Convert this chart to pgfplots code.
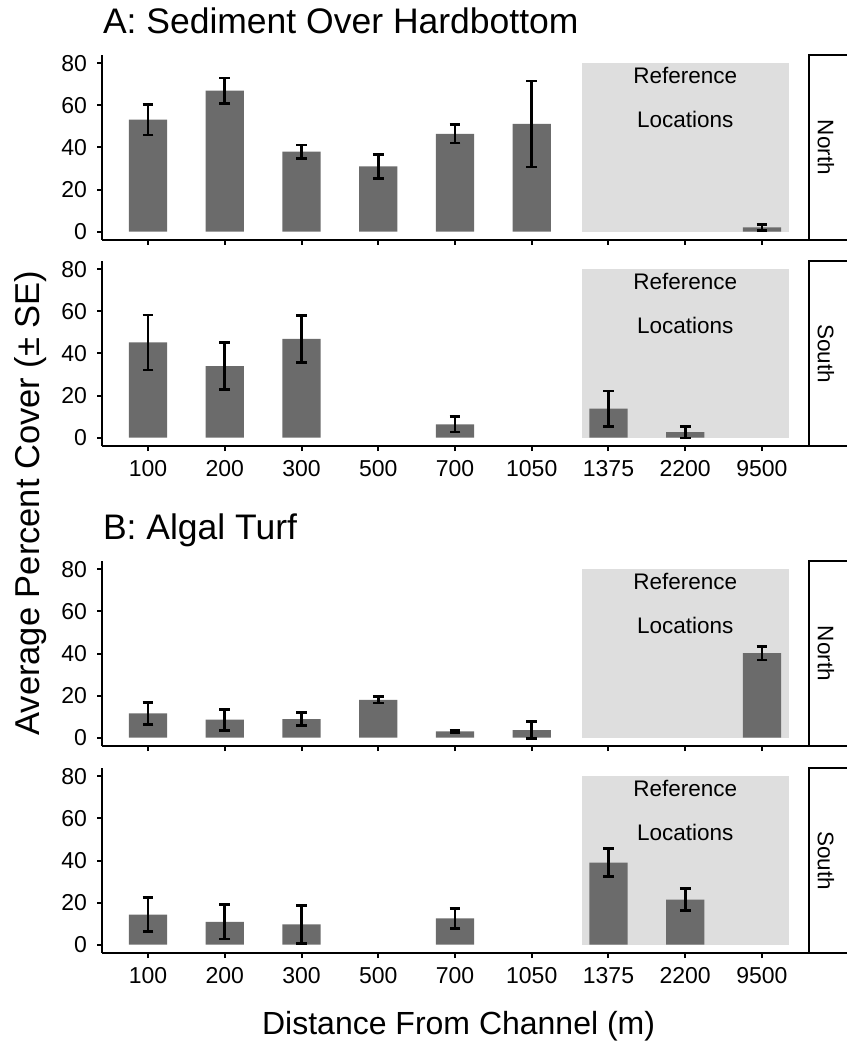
\documentclass[border=0pt]{standalone}
\usepackage{pgfplots}
\pgfplotsset{compat=1.18}
\usepackage{fontspec}
\setmainfont{Liberation Sans}

\definecolor{bargray}{HTML}{6B6B6B}
\definecolor{refgray}{HTML}{DEDEDE}

\pgfplotsset{
  panel/.style={
    width=353pt, height=92.5pt, scale only axis,
    anchor=south west,
    xmin=-0.6, xmax=8.6, ymin=-4, ymax=84,
    axis x line*=bottom, axis y line*=left,
    axis line style={line width=1pt, black},
    xtick={0,...,8}, ytick={0,20,40,60,80},
    tick align=outside, major tick length=2.5pt,
    every tick/.style={line width=1pt, black},
    tick label style={font=\fontsize{11.5}{13}\selectfont, black},
    yticklabel style={xshift=-1.5pt},
    xticklabel style={yshift=-1pt},
    /pgf/number format/assume math mode=true,
    ybar, bar width=0.5,
  },
  nolabels/.style={xticklabels={}},
  labels/.style={xticklabels={100,200,300,500,700,1050,1375,2200,9500}},
  bars/.style={fill=bargray, draw=none,
    error bars/.cd, y dir=both, y explicit,
    error bar style={draw=black, line width=1.3pt},
    error mark options={rotate=90, draw=black, line width=1.3pt, mark size=2.7pt}},
}

% grey box for the reference sites
\newcommand{\refbox}{%
  \fill[refgray] (axis cs:5.65,0) rectangle (axis cs:8.35,80);
  \node[anchor=base, font=\fontsize{11.25}{13}\selectfont] at (axis cs:7,70.5) {Reference};
  \node[anchor=base, font=\fontsize{11.25}{13}\selectfont] at (axis cs:7,49.5) {Locations};
}

\begin{document}
\begin{tikzpicture}
\coordinate (p1) at (51pt,-120pt);
\coordinate (p2) at (51pt,-223pt);
\coordinate (p3) at (51pt,-373pt);
\coordinate (p4) at (51pt,-476.5pt);

% A north
\begin{axis}[panel, nolabels, at={(p1)}]
  \refbox
  \addplot[bars] coordinates {
    (0,53.2) +- (0,7.2)  (1,67.0) +- (0,6.0)  (2,38.0) +- (0,3.2)
    (3,31.0) +- (0,5.7)  (4,46.5) +- (0,4.3)  (5,51.2) +- (0,20.5)
    (8,2.0) +- (0,1.5)
  };
\end{axis}

% A south
\begin{axis}[panel, labels, at={(p2)}]
  \refbox
  \addplot[bars] coordinates {
    (0,45.3) +- (0,13.1)  (1,34.0) +- (0,11.2)  (2,46.9) +- (0,11.2)
    (4,6.3) +- (0,3.6)    (6,13.8) +- (0,8.4)   (7,2.6) +- (0,2.8)
  };
\end{axis}

% B north
\begin{axis}[panel, nolabels, at={(p3)}]
  \refbox
  \addplot[bars] coordinates {
    (0,11.5) +- (0,5.2)  (1,8.5) +- (0,5.0)  (2,8.8) +- (0,3.0)
    (3,18.0) +- (0,1.6)  (4,3.0) +- (0,0.5)  (5,3.6) +- (0,4.0)
    (8,40.2) +- (0,3.2)
  };
\end{axis}

% B south
\begin{axis}[panel, labels, at={(p4)}]
  \refbox
  \addplot[bars] coordinates {
    (0,14.3) +- (0,8.0)  (1,10.8) +- (0,8.2)  (2,9.6) +- (0,9.0)
    (4,12.5) +- (0,4.8)  (6,39.0) +- (0,6.6)  (7,21.4) +- (0,5.2)
  };
\end{axis}

% facet strips
\foreach \t/\b/\lab in {-27.5/-120/North, -130.5/-223/South, -280.5/-373/North, -384/-476.5/South} {
  \draw[line width=1pt] (430pt,\t pt) -- (404.5pt,\t pt) -- (404.5pt,\b pt) -- (430pt,\b pt);
  \node[rotate=-90, font=\fontsize{11.25}{13}\selectfont] at (413pt,{(\t+\b)/2*1pt}) {\lab};
}

% titles and axis labels
\node[anchor=base west, inner sep=0pt, font=\fontsize{17.75}{21}\selectfont] at (51.3pt,-17pt) {A: Sediment Over Hardbottom};
\node[anchor=base west, inner sep=0pt, font=\fontsize{17.75}{21}\selectfont] at (51.3pt,-269.5pt) {B: Algal Turf};
\node[rotate=90, font=\fontsize{17.25}{20}\selectfont] at (15.5pt,-251.5pt) {Average Percent Cover (± SE)};
\node[anchor=base, font=\fontsize{16}{19}\selectfont] at (229.3pt,-517pt) {Distance From Channel (m)};

\pgfresetboundingbox
\path[use as bounding box] (0,0) rectangle (423pt,-523.5pt);
\end{tikzpicture}
\end{document}
